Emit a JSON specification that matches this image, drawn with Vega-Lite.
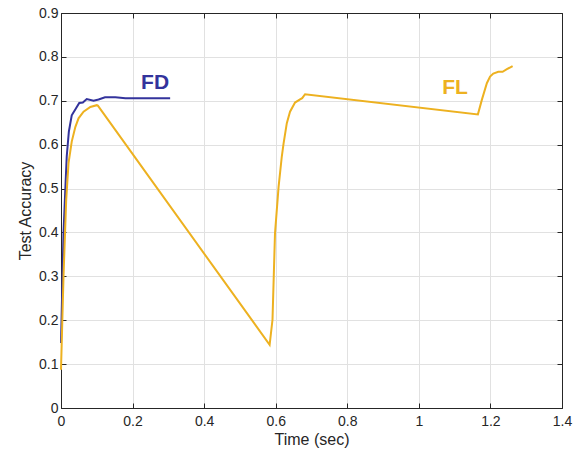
{
  "$schema": "https://vega.github.io/schema/vega-lite/v6.json",
  "width": 501,
  "height": 395,
  "padding": {"left": 17, "top": 6, "right": 1, "bottom": 2},
  "config": {
    "view": {"stroke": "#262626", "strokeWidth": 1},
    "font": "Liberation Sans",
    "axis": {
      "domainColor": "#262626",
      "tickColor": "#262626",
      "tickSize": -5,
      "gridColor": "#e1e1e1",
      "labelFontSize": 14,
      "labelColor": "#262626",
      "labelFlush": false,
      "titleFontSize": 16,
      "titleFontWeight": "normal",
      "titleColor": "#262626"
    }
  },
  "datasets": {
    "curves": [
      {"series": "FD", "t": 0.0, "acc": 0.148},
      {"series": "FD", "t": 0.007, "acc": 0.398},
      {"series": "FD", "t": 0.012, "acc": 0.497},
      {"series": "FD", "t": 0.016, "acc": 0.573},
      {"series": "FD", "t": 0.022, "acc": 0.630},
      {"series": "FD", "t": 0.030, "acc": 0.667},
      {"series": "FD", "t": 0.051, "acc": 0.695},
      {"series": "FD", "t": 0.061, "acc": 0.696},
      {"series": "FD", "t": 0.072, "acc": 0.704},
      {"series": "FD", "t": 0.091, "acc": 0.700},
      {"series": "FD", "t": 0.105, "acc": 0.703},
      {"series": "FD", "t": 0.123, "acc": 0.708},
      {"series": "FD", "t": 0.152, "acc": 0.708},
      {"series": "FD", "t": 0.180, "acc": 0.706},
      {"series": "FD", "t": 0.305, "acc": 0.706},
      {"series": "FL", "t": 0.0, "acc": 0.087},
      {"series": "FL", "t": 0.007, "acc": 0.300},
      {"series": "FL", "t": 0.0145, "acc": 0.474},
      {"series": "FL", "t": 0.021, "acc": 0.558},
      {"series": "FL", "t": 0.030, "acc": 0.607},
      {"series": "FL", "t": 0.040, "acc": 0.640},
      {"series": "FL", "t": 0.049, "acc": 0.660},
      {"series": "FL", "t": 0.063, "acc": 0.675},
      {"series": "FL", "t": 0.082, "acc": 0.686},
      {"series": "FL", "t": 0.100, "acc": 0.690},
      {"series": "FL", "t": 0.103, "acc": 0.689},
      {"series": "FL", "t": 0.583, "acc": 0.144},
      {"series": "FL", "t": 0.591, "acc": 0.201},
      {"series": "FL", "t": 0.598, "acc": 0.398},
      {"series": "FL", "t": 0.608, "acc": 0.504},
      {"series": "FL", "t": 0.617, "acc": 0.573},
      {"series": "FL", "t": 0.622, "acc": 0.603},
      {"series": "FL", "t": 0.631, "acc": 0.649},
      {"series": "FL", "t": 0.640, "acc": 0.675},
      {"series": "FL", "t": 0.654, "acc": 0.696},
      {"series": "FL", "t": 0.668, "acc": 0.703},
      {"series": "FL", "t": 0.674, "acc": 0.706},
      {"series": "FL", "t": 0.682, "acc": 0.715},
      {"series": "FL", "t": 1.165, "acc": 0.669},
      {"series": "FL", "t": 1.176, "acc": 0.702},
      {"series": "FL", "t": 1.190, "acc": 0.740},
      {"series": "FL", "t": 1.199, "acc": 0.755},
      {"series": "FL", "t": 1.208, "acc": 0.762},
      {"series": "FL", "t": 1.222, "acc": 0.766},
      {"series": "FL", "t": 1.234, "acc": 0.766},
      {"series": "FL", "t": 1.246, "acc": 0.772},
      {"series": "FL", "t": 1.262, "acc": 0.779}
    ],
    "labels": [
      {"series": "FD", "t": 0.263, "acc": 0.740},
      {"series": "FL", "t": 1.101, "acc": 0.728}
    ]
  },
  "layer": [
    {
      "data": {"name": "curves"},
      "mark": {"type": "line", "strokeWidth": 2},
      "encoding": {
        "x": {
          "field": "t", "type": "quantitative",
          "scale": {"domain": [0, 1.4], "nice": false},
          "axis": {"orient": "bottom", "title": "Time (sec)", "format": "~g", "tickCount": 7, "grid": true, "labelPadding": 11, "titlePadding": 3}
        },
        "y": {
          "field": "acc", "type": "quantitative",
          "scale": {"domain": [0, 0.9], "nice": false},
          "axis": {"orient": "left", "title": "Test Accuracy", "format": "~g", "tickCount": 9, "grid": true, "labelPadding": 8, "titlePadding": 5}
        },
        "color": {
          "field": "series", "type": "nominal",
          "scale": {"domain": ["FD", "FL"], "range": ["#33339c", "#EDB120"]},
          "legend": null
        }
      }
    },
    {
      "data": {"name": "labels"},
      "mark": {"type": "text", "fontSize": 21, "fontWeight": "bold", "align": "center", "baseline": "middle"},
      "encoding": {
        "x": {
          "field": "t", "type": "quantitative",
          "scale": {"domain": [0, 1.4], "nice": false},
          "axis": {"orient": "top", "title": null, "labels": false, "grid": false, "tickCount": 7}
        },
        "y": {
          "field": "acc", "type": "quantitative",
          "scale": {"domain": [0, 0.9], "nice": false},
          "axis": {"orient": "right", "title": null, "labels": false, "grid": false, "tickCount": 9}
        },
        "text": {"field": "series", "type": "nominal"},
        "color": {"field": "series", "type": "nominal", "legend": null}
      }
    }
  ],
  "resolve": {
    "scale": {"x": "independent", "y": "independent"},
    "axis": {"x": "independent", "y": "independent"}
  }
}
